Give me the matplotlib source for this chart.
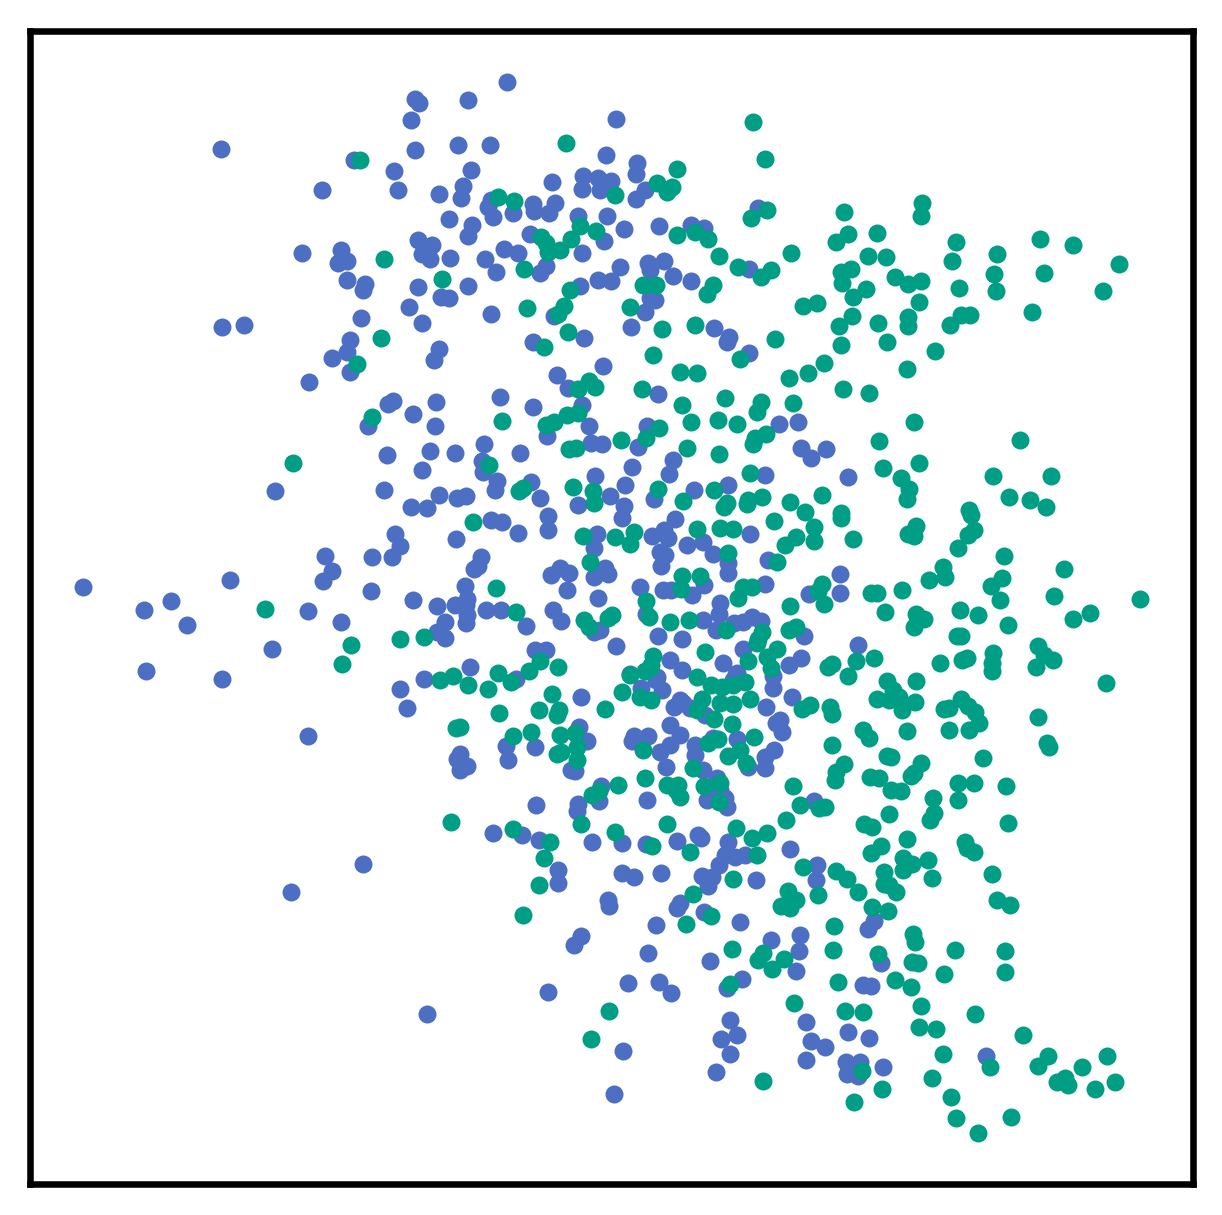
import numpy as np
import matplotlib
matplotlib.use('Agg')
import matplotlib.pyplot as plt

# values, (x, y) with y growing downwards
blue_points = [
    (507,82),(415,99),(419,103),(468,100),(411,120),(616,119),(221,149),(458,145),(490,145),(415,150),(606,155),(354,160),
    (637,163),(471,170),(394,171),(636,174),(583,176),(598,178),(611,181),(463,186),(552,182),(322,190),(398,190),(582,189),
    (600,190),(439,194),(461,198),(645,190),(636,199),(491,200),(488,207),(533,204),(555,203),(493,217),(513,213),(534,211),
    (549,213),(449,219),(472,225),(578,216),(607,216),(468,236),(530,234),(624,229),(659,226),(691,225),(704,228),(758,208),
    (418,240),(432,245),(422,254),(341,250),(302,253),(347,261),(338,263),(430,259),(450,258),(485,259),(504,249),(518,253),
    (582,253),(604,241),(496,272),(540,273),(546,266),(648,263),(664,261),(650,270),(620,267),(673,276),(691,281),(749,269),
    (347,280),(365,284),(363,290),(418,287),(468,286),(580,286),(598,280),(611,281),(441,297),(449,298),(409,307),(491,314),
    (361,318),(422,323),(222,327),(244,325),(650,298),(655,300),(645,312),(554,316),(631,327),(714,328),(729,337),(727,342),
    (350,340),(347,352),(533,342),(584,338),(439,349),(434,360),(332,358),(350,372),(749,353),(603,366),(309,382),(557,375),
    (568,388),(658,394),(388,404),(393,401),(436,402),(500,397),(413,414),(533,407),(582,405),(435,426),(368,426),(589,426),
    (647,426),(779,424),(798,422),(547,436),(430,451),(484,444),(591,443),(602,444),(638,447),(801,448),(826,449),(811,458),
    (387,455),(455,453),(520,453),(482,461),(483,472),(422,470),(673,460),(632,467),(669,474),(595,476),(765,475),(848,477),
    (497,481),(531,482),(495,490),(384,490),(275,491),(625,485),(439,495),(457,498),(466,496),(540,498),(610,496),(654,499),
    (694,490),(728,485),(411,507),(427,508),(578,505),(624,506),(622,518),(675,519),(548,516),(491,520),(502,522),(518,533),
    (548,530),(597,534),(652,536),(668,538),(664,530),(687,545),(703,542),(750,534),(395,534),(400,546),(456,539),(392,557),
    (372,557),(325,556),(481,557),(594,548),(660,552),(665,555),(713,554),(768,560),(332,571),(474,569),(478,566),(551,575),
    (560,568),(569,573),(605,568),(608,574),(594,577),(661,566),(728,563),(728,573),(840,574),(323,581),(230,580),(83,587),
    (465,586),(567,590),(640,587),(663,590),(671,590),(692,595),(704,585),(765,584),(809,594),(840,593),(371,591),(467,599),
    (598,598),(413,600),(171,601),(144,610),(308,611),(437,606),(455,605),(466,605),(486,610),(501,610),(553,610),(467,615),
    (466,623),(341,622),(187,625),(445,622),(437,632),(445,638),(526,626),(561,621),(646,614),(720,603),(719,614),(703,620),
    (734,623),(743,622),(752,617),(761,621),(716,630),(600,630),(594,632),(658,636),(682,639),(804,636),(801,658),(789,665),
    (616,646),(272,649),(535,650),(546,650),(743,649),(858,645),(146,671),(222,679),(470,667),(424,679),(630,674),(682,670),
    (736,674),(773,676),(773,688),(516,679),(400,689),(407,708),(581,697),(641,688),(656,680),(670,660),(680,700),(683,703),
    (792,697),(662,690),(733,680),(674,707),(766,707),(780,720),(776,723),(308,736),(782,732),(579,727),(587,741),(634,736),
    (648,736),(632,741),(670,745),(680,735),(695,745),(737,739),(713,738),(660,752),(506,746),(535,747),(460,754),(457,759),
    (508,760),(467,766),(460,770),(695,755),(765,757),(765,768),(748,767),(666,767),(571,770),(575,771),(703,770),(601,786),
    (715,785),(707,800),(647,800),(599,801),(578,804),(536,805),(577,811),(814,801),(727,807),(493,833),(522,835),(539,840),
    (622,843),(592,842),(646,844),(677,841),(698,835),(701,838),(728,842),(790,849),(363,864),(725,855),(719,865),(735,857),
    (745,855),(622,873),(634,877),(661,873),(558,870),(558,883),(702,876),(712,877),(708,886),(756,880),(817,865),(816,880),
    (291,892),(608,900),(609,906),(680,903),(677,908),(704,912),(656,925),(740,922),(874,921),(868,929),(581,936),(574,945),
    (648,953),(771,940),(800,935),(799,951),(710,961),(881,963),(796,971),(742,979),(628,983),(659,982),(727,988),(548,992),
    (671,993),(863,985),(871,986),(427,1014),(730,1020),(806,1022),(737,1035),(848,1032),(721,1039),(869,1038),(811,1041),
    (825,1047),(623,1051),(730,1054),(806,1060),(846,1062),(860,1062),(883,1067),(986,1056),(847,1074),(858,1076),(716,1072),
    (614,1094),(657,677),(690,708),(705,715),(723,663),(670,725),(774,750),(717,778),(725,798),(720,790),(737,673),
]

green_points = [
    (753,122),(566,143),(360,160),(765,159),(677,169),(657,183),(672,187),(667,192),(615,195),(498,197),(514,201),(767,210),
    (751,218),(844,212),(922,203),(921,216),(580,226),(596,231),(677,235),(695,232),(708,239),(848,234),(877,233),(836,242),
    (956,242),(1040,239),(1073,245),(541,237),(546,243),(548,252),(560,250),(571,239),(384,259),(719,256),(791,253),(868,256),
    (886,257),(997,254),(952,261),(738,267),(771,270),(761,277),(841,272),(851,269),(895,277),(994,274),(1044,273),(1119,264),
    (524,269),(442,279),(643,285),(656,285),(570,290),(713,285),(707,294),(842,283),(866,289),(908,284),(921,281),(959,288),
    (996,291),(1103,291),(853,297),(919,302),(803,306),(817,303),(630,307),(527,308),(564,306),(558,314),(852,316),(908,317),
    (908,326),(878,323),(961,315),(970,315),(1032,312),(950,325),(839,326),(662,329),(695,325),(568,332),(381,338),(775,339),
    (887,342),(841,345),(544,347),(935,351),(653,355),(740,359),(357,364),(824,363),(907,369),(680,372),(697,373),(808,373),
    (789,378),(589,381),(578,389),(595,387),(642,389),(843,389),(869,393),(725,398),(761,402),(793,403),(682,405),(757,412),
    (372,417),(567,415),(578,413),(502,421),(546,425),(554,422),(659,428),(691,422),(718,420),(737,424),(914,422),(766,434),
    (755,438),(753,444),(646,438),(621,440),(569,449),(576,448),(687,448),(879,441),(1020,440),(719,454),(293,463),(489,465),
    (883,468),(750,473),(901,478),(993,476),(1051,476),(573,487),(593,491),(658,489),(519,491),(523,488),(714,490),(909,489),
    (919,463),(822,495),(762,497),(748,500),(683,501),(594,503),(724,507),(727,503),(747,504),(790,502),(907,499),(1009,497),
    (1030,500),(1046,507),(969,510),(971,515),(805,512),(841,513),(473,522),(774,521),(841,518),(697,529),(720,528),(733,529),
    (814,527),(916,526),(974,530),(968,535),(908,534),(914,536),(583,536),(634,532),(615,537),(630,544),(796,537),(785,545),
    (814,541),(853,539),(958,548),(1004,556),(728,553),(590,562),(777,562),(943,567),(1064,569),(682,576),(700,576),(929,580),
    (945,577),(1002,578),(991,586),(822,584),(818,591),(681,589),(743,587),(752,587),(738,598),(496,588),(871,593),(877,593),
    (902,590),(1054,596),(1000,600),(1140,599),(646,601),(824,604),(790,606),(265,609),(885,612),(960,610),(516,612),(612,615),
    (608,618),(649,617),(916,614),(924,619),(914,627),(978,615),(1090,613),(1073,619),(670,622),(689,620),(584,620),(589,627),
    (726,630),(762,632),(758,639),(789,630),(796,627),(1008,625),(424,637),(400,639),(351,645),(957,636),(961,636),(1038,646),
    (705,652),(757,643),(767,657),(993,653),(342,664),(540,661),(856,661),(874,658),(832,664),(828,667),(940,663),(962,660),
    (967,658),(1044,655),(1053,660),(992,663),(992,671),(1036,667),(653,656),(651,665),(645,671),(630,675),(558,667),(529,671),
    (498,673),(771,668),(748,661),(848,676),(440,680),(453,676),(468,685),(511,682),(488,689),(552,694),(622,692),(916,681),
    (1106,683),(887,681),(893,690),(711,685),(722,687),(733,685),(745,682),(640,697),(651,700),(702,699),(720,703),(733,704),
    (750,699),(877,699),(889,700),(899,697),(915,702),(961,699),(830,707),(810,705),(802,709),(902,710),(944,709),(949,708),
    (968,706),(975,712),(605,709),(539,710),(559,710),(499,713),(557,715),(832,714),(714,719),(979,723),(1038,717),(456,728),
    (460,727),(732,724),(863,730),(907,731),(949,730),(969,730),(531,732),(513,736),(560,735),(575,733),(869,738),(740,750),
    (754,737),(708,743),(718,739),(832,745),(1047,743),(1049,747),(643,750),(557,754),(561,752),(577,747),(577,760),(728,756),
    (746,763),(887,756),(891,757),(983,758),(844,764),(921,763),(693,768),(836,772),(835,780),(870,777),(879,778),(914,773),
    (911,776),(645,778),(618,785),(667,785),(678,785),(676,790),(680,797),(704,786),(720,783),(793,786),(891,790),(901,791),
    (958,783),(974,783),(1006,786),(592,795),(599,791),(933,798),(800,805),(958,800),(819,808),(825,807),(719,802),(934,813),
    (930,820),(889,814),(786,820),(451,822),(581,824),(667,824),(864,824),(872,827),(1008,823),(513,829),(615,832),(736,828),
    (767,833),(907,839),(550,842),(652,846),(965,842),(967,848),(974,852),(690,852),(881,846),(871,853),(757,855),(544,858),
    (752,838),(903,858),(928,860),(803,867),(912,864),(903,870),(836,871),(884,872),(992,874),(733,879),(847,879),(932,878),
    (539,885),(884,884),(889,885),(858,892),(896,892),(693,894),(788,891),(796,900),(818,895),(997,900),(1010,905),(781,906),
    (790,908),(872,907),(888,911),(523,915),(711,916),(834,926),(686,924),(913,934),(915,942),(732,949),(833,950),(955,950),
    (1005,951),(878,954),(763,953),(758,960),(784,959),(912,962),(918,963),(772,969),(1005,972),(944,974),(895,980),(838,982),
    (730,984),(911,987),(609,1011),(794,1003),(921,1006),(845,1011),(863,1012),(975,1014),(919,1027),(936,1029),(591,1039),
    (1023,1035),(943,1054),(1048,1056),(1107,1056),(1038,1066),(990,1067),(1082,1067),(862,1071),(932,1078),(1065,1078),
    (1057,1082),(1068,1085),(1115,1082),(763,1081),(882,1089),(1095,1089),(951,1097),(854,1102),(956,1118),(1011,1117),(978,1133),
    (697,677),(697,710),(650,668),(777,649),
]

blue = np.array(blue_points)
green = np.array(green_points)

W, H = 1222, 1215
fig = plt.figure(figsize=(W / 200, H / 200), dpi=200)
ax = fig.add_axes([30 / W, 1 - 1184 / H, (1193 - 30) / W, (1184 - 31) / H])

ax.scatter(blue[:, 0], blue[:, 1], s=42, color='#4c6fc4', linewidths=0)
ax.scatter(green[:, 0], green[:, 1], s=42, color='#009e85', linewidths=0)

ax.set_xlim(30, 1193)
ax.set_ylim(1184, 31)
ax.set_xticks([])
ax.set_yticks([])
for s in ax.spines.values():
    s.set_linewidth(2.35)

fig.savefig('out.png', dpi=200)
